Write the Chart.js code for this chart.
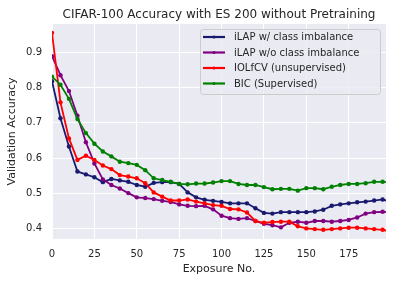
<!DOCTYPE html>
<html>
<head>
<meta charset="utf-8">
<script src="https://cdn.jsdelivr.net/npm/chart.js@4"></script>
<style>
    html, body { margin: 0; padding: 0; background: #ffffff; }
    #wrap { width: 393px; height: 284px; }
</style>
</head>
<body>
<div id="wrap"><canvas id="chart-acc" width="393" height="284"></canvas></div>
<script>
// ===== DADOS =====

const exposicao = [0, 5, 10, 15, 20, 25, 30, 35, 40, 45, 50, 55, 60, 65, 70, 75, 80, 85, 90, 95,
    100, 105, 110, 115, 120, 125, 130, 135, 140, 145, 150, 155, 160, 165, 170, 175, 180, 185, 190, 195, 197];

const ilapComDesbalanco = [0.818, 0.713, 0.633, 0.562, 0.554, 0.546, 0.532, 0.541, 0.537, 0.533,
    0.524, 0.519, 0.530, 0.532, 0.532, 0.527, 0.503, 0.489, 0.482, 0.479,
    0.476, 0.472, 0.472, 0.472, 0.458, 0.445, 0.443, 0.447, 0.447, 0.447,
    0.447, 0.449, 0.454, 0.465, 0.469, 0.472, 0.475, 0.477, 0.480, 0.483, 0.480];

const ilapSemDesbalanco = [0.889, 0.835, 0.790, 0.720, 0.645, 0.585, 0.540, 0.524, 0.514, 0.501,
    0.489, 0.487, 0.484, 0.479, 0.476, 0.469, 0.465, 0.464, 0.465, 0.455,
    0.437, 0.430, 0.428, 0.430, 0.422, 0.414, 0.410, 0.404, 0.417, 0.420,
    0.417, 0.422, 0.422, 0.420, 0.422, 0.425, 0.432, 0.443, 0.447, 0.448, 0.447];

const iolfcv = [0.955, 0.758, 0.656, 0.595, 0.607, 0.595, 0.579, 0.569, 0.552, 0.548,
    0.543, 0.529, 0.503, 0.491, 0.480, 0.480, 0.483, 0.477, 0.472, 0.467,
    0.465, 0.456, 0.455, 0.446, 0.422, 0.417, 0.419, 0.420, 0.420, 0.407,
    0.401, 0.399, 0.397, 0.399, 0.401, 0.403, 0.403, 0.401, 0.399, 0.397, 0.395];

const bic = [0.831, 0.808, 0.768, 0.711, 0.671, 0.641, 0.619, 0.605, 0.590, 0.586,
    0.581, 0.566, 0.543, 0.538, 0.533, 0.527, 0.526, 0.528, 0.528, 0.531,
    0.535, 0.535, 0.527, 0.524, 0.524, 0.518, 0.512, 0.513, 0.513, 0.508,
    0.515, 0.515, 0.512, 0.519, 0.524, 0.527, 0.527, 0.529, 0.533, 0.533, 0.532];

const nomesSeries = ['iLAP w/ class imbalance', 'iLAP w/o class imbalance', 'IOLfCV (unsupervised)', 'BIC (Supervised)'];
const coresSeries = ['#191970', '#800080', '#ff0000', '#008000'];
const ticksX = [0, 25, 50, 75, 100, 125, 150, 175];
const ticksY = [0.4, 0.5, 0.6, 0.7, 0.8, 0.9];
const titulo = 'CIFAR-100 Accuracy with ES 200 without Pretraining';

const FONTE = "'DejaVu Sans', 'Liberation Sans', sans-serif";
const COR_TEXTO = '#262626';

// Fundo do gráfico (estilo seaborn) + título centrado na área de plotagem
const fundoPlugin = {
    id: 'fundo',
    beforeDraw(chart) {
        const { ctx, chartArea: a } = chart;
        ctx.save();
        ctx.fillStyle = '#eaeaf2';
        ctx.fillRect(a.left, a.top, a.right - a.left, a.bottom - a.top);
        ctx.fillStyle = COR_TEXTO;
        ctx.font = '12px ' + FONTE;
        ctx.textAlign = 'center';
        ctx.textBaseline = 'alphabetic';
        ctx.fillText(titulo, (a.left + a.right) / 2, 18);
        ctx.restore();
    }
};

// Legenda dentro da área do gráfico
const legendaPlugin = {
    id: 'legendaInterna',
    afterDraw(chart) {
        const { ctx, chartArea: a } = chart;
        const x0 = a.right - 186, y0 = a.top + 5, w = 180, h = 65;
        ctx.save();
        ctx.beginPath();
        ctx.roundRect(x0 + 0.5, y0 + 0.5, w, h, 3);
        ctx.fillStyle = 'rgba(234, 234, 242, 0.8)';
        ctx.fill();
        ctx.strokeStyle = '#cccccc';
        ctx.lineWidth = 1;
        ctx.stroke();

        ctx.font = '10px ' + FONTE;
        ctx.textBaseline = 'middle';
        ctx.textAlign = 'left';
        nomesSeries.forEach((nome, i) => {
            const y = y0 + 8 + i * 15.5;
            ctx.strokeStyle = coresSeries[i];
            ctx.lineWidth = 2.2;
            ctx.beginPath();
            ctx.moveTo(x0 + 3, y);
            ctx.lineTo(x0 + 25, y);
            ctx.stroke();
            ctx.fillStyle = coresSeries[i];
            ctx.beginPath();
            ctx.arc(x0 + 14, y, 1.6, 0, Math.PI * 2);
            ctx.fill();
            ctx.fillStyle = COR_TEXTO;
            ctx.fillText(nome, x0 + 34, y + 0.5);
        });
        ctx.restore();
    }
};

const series = [ilapComDesbalanco, ilapSemDesbalanco, iolfcv, bic];

const datasets = series.map((valores, i) => ({
    label: nomesSeries[i],
    data: exposicao.map((x, j) => ({ x, y: valores[j] })),
    borderColor: coresSeries[i],
    backgroundColor: coresSeries[i],
    borderWidth: 1.8,
    pointRadius: ctx => (exposicao[ctx.dataIndex] % 5 === 0 ? 2.2 : 0),
    pointBorderWidth: 0,
    tension: 0,
    fill: false,
    order: series.length - i
}));

const ctx = document.getElementById('chart-acc');

new Chart(ctx, {
    type: 'line',
    data: { datasets },
    options: {
        responsive: false,
        animation: false,
        devicePixelRatio: 1,
        layout: { padding: { left: 0, right: 7, top: 24, bottom: 0 } },
        plugins: {
            legend: { display: false },
            tooltip: { enabled: false },
            title: { display: false }
        },
        scales: {
            x: {
                type: 'linear',
                min: 0,
                max: 197,
                afterBuildTicks: scale => { scale.ticks = ticksX.map(v => ({ value: v })); },
                afterFit: scale => { scale.height = 45; },
                grid: { color: '#ffffff', lineWidth: 1, drawTicks: false },
                border: { display: false },
                ticks: {
                    color: COR_TEXTO,
                    font: { family: FONTE, size: 10 },
                    padding: 9,
                    maxRotation: 0,
                    callback: v => String(v)
                },
                title: {
                    display: true,
                    text: 'Exposure No.',
                    color: COR_TEXTO,
                    font: { family: FONTE, size: 11 },
                    padding: { top: 0, bottom: 8 }
                }
            },
            y: {
                min: 0.371,
                max: 0.98,
                afterBuildTicks: scale => { scale.ticks = ticksY.map(v => ({ value: v })); },
                afterFit: scale => { scale.width = 52; },
                grid: { color: '#ffffff', lineWidth: 1, drawTicks: false },
                border: { display: false },
                ticks: {
                    color: COR_TEXTO,
                    font: { family: FONTE, size: 10 },
                    padding: 10,
                    callback: v => v.toFixed(1)
                },
                title: {
                    display: true,
                    text: 'Validation Accuracy',
                    color: COR_TEXTO,
                    font: { family: FONTE, size: 11 },
                    padding: { top: 5.5, bottom: 0 }
                }
            }
        }
    },
    plugins: [fundoPlugin, legendaPlugin]
});
</script>
</body>
</html>
